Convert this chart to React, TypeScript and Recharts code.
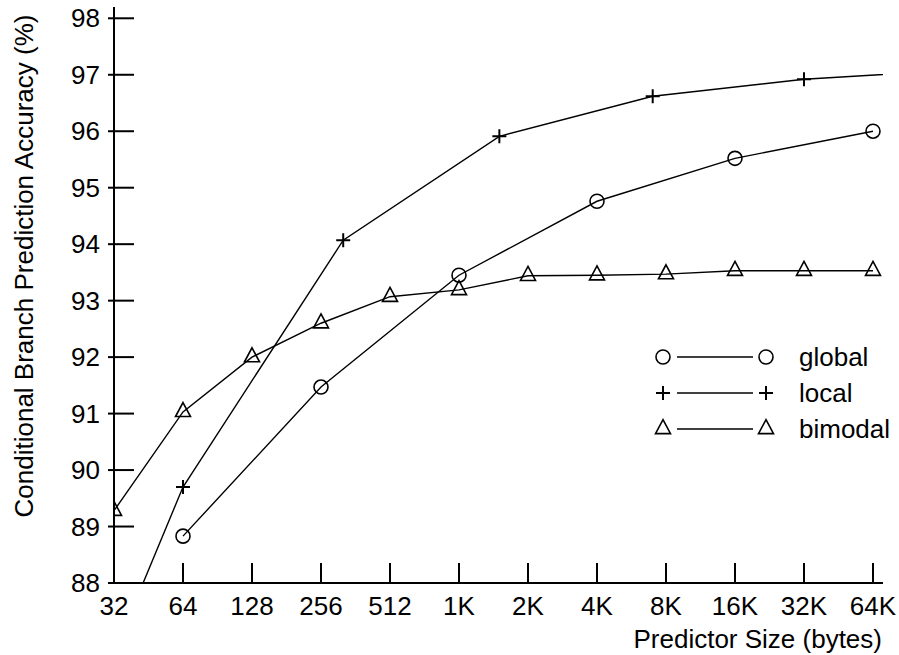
import React from 'react';
import { LineChart, Line, XAxis, YAxis, Legend } from 'recharts';

// ---- data ----
const globalSizes = [64, 256, 1024, 4096, 16384, 65536];
const globalAccuracy = [88.83, 91.47, 93.45, 94.76, 95.52, 96.0];

const localSizes = [32, 64, 320, 1536, 7168, 32768, 131072];
const localAccuracy = [86.76, 89.7, 94.07, 95.91, 96.62, 96.92, 97.07];

const bimodalSizes = [32, 64, 128, 256, 512, 1024, 2048, 4096, 8192, 16384, 32768, 65536];
const bimodalAccuracy = [89.28, 91.03, 92.0, 92.6, 93.07, 93.19, 93.44, 93.45, 93.47, 93.53, 93.53, 93.53];

const xTicks = [32, 64, 128, 256, 512, 1024, 2048, 4096, 8192, 16384, 32768, 65536];
const xTickLabels = ['32', '64', '128', '256', '512', '1K', '2K', '4K', '8K', '16K', '32K', '64K'];
const yTicks = [88, 89, 90, 91, 92, 93, 94, 95, 96, 97, 98];

const seriesNames = ['global', 'local', 'bimodal'];

const toRows = (sizes: number[], values: number[]) =>
  sizes.map((size, i) => ({ size, accuracy: values[i] }));

const globalData = toRows(globalSizes, globalAccuracy);
const localData = toRows(localSizes, localAccuracy);
const bimodalData = toRows(bimodalSizes, bimodalAccuracy);

// ---- styles ----
const FONT = '"Liberation Sans", Arial, Helvetica, sans-serif';
const FS = 26;
const INK = '#000';

// ---- markers ----
const CircleMark = ({ cx, cy, r = 7 }: any) => (
  <circle cx={cx} cy={cy} r={r} fill="none" stroke={INK} strokeWidth={1.6} />
);
const PlusMark = ({ cx, cy, s = 7 }: any) => (
  <path d={`M${cx - s},${cy}H${cx + s}M${cx},${cy - s}V${cy + s}`} stroke={INK} strokeWidth={2} fill="none" />
);
const TriangleMark = ({ cx, cy, w = 15, h = 14 }: any) => (
  <path
    d={`M${cx},${cy - (2 * h) / 3}L${cx + w / 2},${cy + h / 3}L${cx - w / 2},${cy + h / 3}Z`}
    stroke={INK}
    strokeWidth={1.6}
    fill="none"
  />
);

const makeDot = (Mark: any) => (props: any) => {
  const { cx, cy, index } = props;
  if (cx == null || cy == null) return <g key={`d${index}`} />;
  return <Mark key={`d${index}`} cx={cx} cy={cy} />;
};

// ---- ticks ----
const XTick = (props: any) => {
  const { x, y, payload } = props;
  const idx = xTicks.indexOf(payload.value);
  return (
    <g>
      <line x1={x} x2={x} y1={y} y2={y - 20} stroke={INK} strokeWidth={2} />
      <text x={x} y={y + 32} textAnchor="middle" fontSize={FS} fontFamily={FONT} fill={INK}>
        {idx >= 0 ? xTickLabels[idx] : payload.value}
      </text>
    </g>
  );
};

const YTick = (props: any) => {
  const { x, y, payload } = props;
  return (
    <g>
      <line x1={x - 6} x2={x + 20} y1={y} y2={y} stroke={INK} strokeWidth={2} />
      <text x={x - 14} y={y + 9} textAnchor="end" fontSize={FS} fontFamily={FONT} fill={INK}>
        {payload.value}
      </text>
    </g>
  );
};

const YTitle = () => (
  <text
    transform="translate(33,266) rotate(-90)"
    textAnchor="middle"
    fontSize={FS}
    fontFamily={FONT}
    fill={INK}
  >
    Conditional Branch Prediction Accuracy (%)
  </text>
);

const XTitle = () => (
  <text x={882} y={648} textAnchor="end" fontSize={FS} fontFamily={FONT} fill={INK}>
    Predictor Size (bytes)
  </text>
);

// ---- legend ----
const legendMarks = [CircleMark, PlusMark, TriangleMark];
const LegendContent = () => (
  <svg width={259} height={120} style={{ display: 'block' }}>
    {seriesNames.map((name, i) => {
      const cy = 27 + i * 36;
      const Mark = legendMarks[i];
      return (
        <g key={name}>
          <Mark cx={23} cy={cy} />
          <line x1={37} x2={113} y1={cy} y2={cy} stroke={INK} strokeWidth={1.4} />
          <Mark cx={126} cy={cy} />
          <text x={159} y={cy + 9} fontSize={FS} fontFamily={FONT} fill={INK}>
            {name}
          </text>
        </g>
      );
    })}
  </svg>
);

export default function App() {
  return (
    <div style={{ position: 'absolute', left: 0, top: 0, width: 899, height: 655, background: '#fff' }}>
      <LineChart width={899} height={655} margin={{ top: 7, right: 16, bottom: 0, left: 0 }}>
        <XAxis
          dataKey="size"
          type="number"
          scale="log"
          domain={[32, 72470]}
          allowDataOverflow
          ticks={xTicks}
          interval={0}
          tickLine={false}
          tickSize={0}
          tickMargin={0}
          tick={<XTick />}
          axisLine={{ stroke: INK, strokeWidth: 2 }}
          height={72}
          label={<XTitle />}
        />
        <YAxis
          type="number"
          domain={[88, 98.2]}
          allowDataOverflow
          ticks={yTicks}
          interval={0}
          tickLine={false}
          tickSize={0}
          tickMargin={0}
          tick={<YTick />}
          axisLine={{ stroke: INK, strokeWidth: 2 }}
          width={114}
          label={<YTitle />}
        />
        <Legend
          layout="horizontal"
          verticalAlign="middle"
          align="center"
          content={<LegendContent />}
          wrapperStyle={{ left: 640, top: 330, width: 259, height: 120 }}
        />
        <Line
          data={globalData}
          dataKey="accuracy"
          name="global"
          stroke={INK}
          strokeWidth={1.4}
          dot={makeDot(CircleMark)}
          activeDot={false}
          isAnimationActive={false}
        />
        <Line
          data={localData}
          dataKey="accuracy"
          name="local"
          stroke={INK}
          strokeWidth={1.4}
          dot={makeDot(PlusMark)}
          activeDot={false}
          isAnimationActive={false}
        />
        <Line
          data={bimodalData}
          dataKey="accuracy"
          name="bimodal"
          stroke={INK}
          strokeWidth={1.4}
          dot={makeDot(TriangleMark)}
          activeDot={false}
          isAnimationActive={false}
        />
      </LineChart>
    </div>
  );
}
